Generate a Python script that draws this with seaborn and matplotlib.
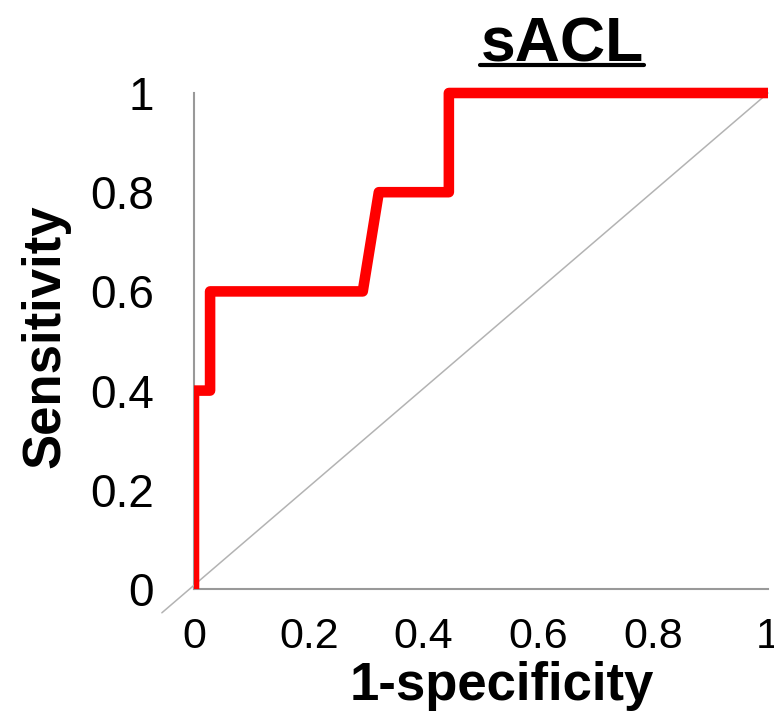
import matplotlib
matplotlib.use("Agg")
import matplotlib.pyplot as plt
import seaborn as sns
import pandas as pd
from matplotlib.lines import Line2D
from matplotlib.transforms import Bbox, TransformedBbox

# ROC curve data
fpr = [0.0, 0.0, 0.028, 0.028, 0.294, 0.322, 0.444, 0.444, 1.0]
tpr = [0.0, 0.4, 0.4, 0.6, 0.6, 0.8, 0.8, 1.0, 1.0]
diag_x = [-0.056, 1.0]
diag_y = [-0.048, 1.0]
ticks = [0, 0.2, 0.4, 0.6, 0.8, 1]
tick_labels = ["0", "0.2", "0.4", "0.6", "0.8", "1"]
title = "sACL"
xlabel = "1-specificity"
ylabel = "Sensitivity"

sns.set_theme(style="white")
plt.rcParams["font.family"] = ["Liberation Sans", "DejaVu Sans"]

fig = plt.figure(figsize=(7.74, 7.11), dpi=100)
ax = fig.add_axes([194/774, 1 - 589/711, (768 - 194)/774, (589 - 93)/711])

roc = pd.DataFrame({"fpr": fpr, "tpr": tpr})
diag = pd.DataFrame({"x": diag_x, "y": diag_y})

sns.lineplot(data=diag, x="x", y="y", sort=False, estimator=None, ax=ax,
             color="#b3b3b3", linewidth=1.1, clip_on=False, zorder=2)
sns.lineplot(data=roc, x="fpr", y="tpr", sort=False, estimator=None, ax=ax,
             color="#ff0000", linewidth=7.6, zorder=3)
ln = ax.lines[-1]
ln.set_solid_joinstyle("round")
ln.set_solid_capstyle("butt")
ln.set_clip_on(True)
ln.set_clip_box(TransformedBbox(Bbox([[0, -0.2], [1.2, 1.2]]), ax.transAxes))

ax.set_xlim(0, 1)
ax.set_ylim(0, 1)
ax.set_xticks(ticks)
ax.set_xticklabels(tick_labels)
ax.set_yticks(ticks)
ax.set_yticklabels(tick_labels)

for s in ["top", "right"]:
    ax.spines[s].set_visible(False)
for s in ["left", "bottom"]:
    ax.spines[s].set_color("#999999")
    ax.spines[s].set_linewidth(1.5)
    ax.spines[s].set_zorder(1)

ax.tick_params(axis="both", which="major", direction="out", length=9,
               width=1.5, color="#999999", labelcolor="black")
ax.tick_params(axis="y", pad=20, labelsize=33)
ax.tick_params(axis="x", pad=11, labelsize=31)

ax.set_xlabel(xlabel, fontsize=38, fontweight="bold", color="black")
ax.set_ylabel(ylabel, fontsize=38, fontweight="bold", color="black")
ax.xaxis.set_label_coords(0.537, -0.145)
ax.yaxis.set_label_coords(-0.215, 0.51)

t = fig.text(562/774, 1 - 62/711, title, fontsize=45, fontweight="bold",
             ha="center", va="baseline", color="black")

fig.canvas.draw()
r = fig.canvas.get_renderer()
bb = t.get_window_extent(r).transformed(fig.transFigure.inverted())
uy = 1 - 65/711
fig.add_artist(Line2D([bb.x0, bb.x1], [uy, uy], transform=fig.transFigure,
                      color="black", linewidth=3))

fig.savefig("out.png", dpi=100)
